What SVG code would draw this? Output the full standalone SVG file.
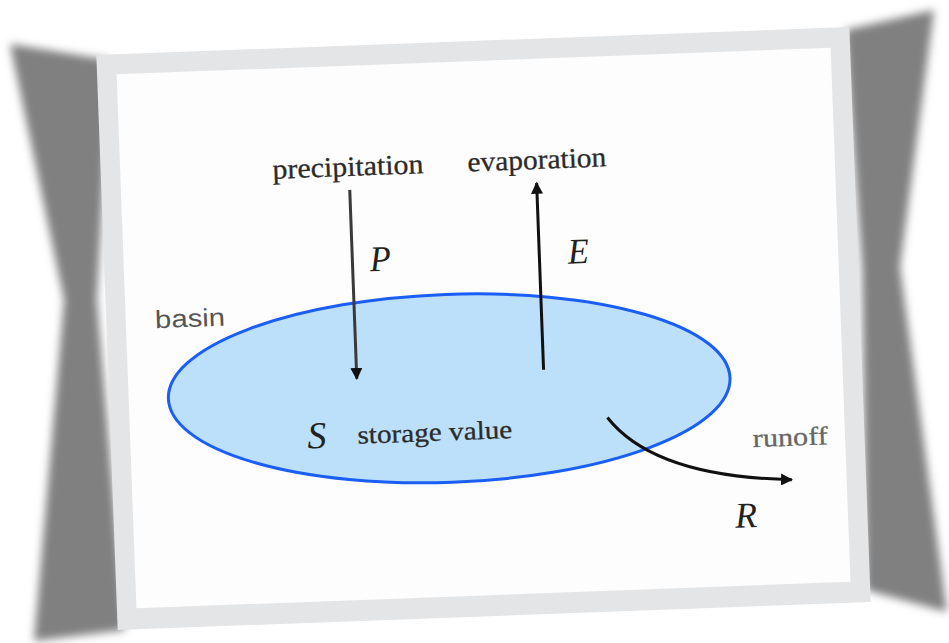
<svg xmlns="http://www.w3.org/2000/svg" width="949" height="643" viewBox="0 0 949 643">
<style>
.lbl{font-family:"Liberation Serif","Times New Roman",serif;fill:#2b2b2b;text-anchor:middle;stroke:#2b2b2b;stroke-width:0.3}
.sym{font-family:"Liberation Serif","Times New Roman",serif;font-style:italic;fill:#222;text-anchor:middle}
.sans{font-family:"Liberation Sans",Arial,sans-serif;fill:#555;text-anchor:middle}
.flow{fill:none;stroke-linecap:butt}
</style>
<defs>
<filter id="blur" x="-20%" y="-20%" width="140%" height="140%"><feGaussianBlur stdDeviation="4"/></filter>
<marker id="headDark" markerUnits="userSpaceOnUse" markerWidth="12" markerHeight="12" viewBox="0 0 10 10" refX="9" refY="5" orient="auto"><path d="M0,0 L10,5 L0,10 z" fill="#111"/></marker>
</defs>
<rect width="949" height="643" fill="#ffffff"/>
<g id="shadows" fill="#808080" filter="url(#blur)">
<polygon points="10,44 110,60 97,300 125,630 34,641 64,300"/>
<polygon points="845,30 934,10 900,267 947,612 866,590 862,267"/>
</g>
<g transform="rotate(-2.13 483.5 328.5)">
<g id="frame">
<rect x="106.75" y="40.8" width="753.5" height="575.4" fill="#e4e5e7"/>
<rect x="126.3" y="60.8" width="714.5" height="534.4" fill="#fdfdfd"/>
</g>
<g id="basin">
<ellipse cx="447" cy="387" rx="281" ry="94" fill="#bde0fa" stroke="#1a5ef5" stroke-width="3"/>
<text class="sans" x="190.6" y="316" font-size="25" textLength="70" lengthAdjust="spacingAndGlyphs">basin</text>
</g>
<g id="storage">
<text class="sym" x="313" y="442" font-size="38" textLength="19" lengthAdjust="spacingAndGlyphs">S</text>
<text class="lbl" x="431" y="439" font-size="26" textLength="155" lengthAdjust="spacingAndGlyphs">storage value</text>
</g>
<g id="precipitation">
<text class="lbl" x="354" y="171" font-size="28" textLength="151" lengthAdjust="spacingAndGlyphs">precipitation</text>
<text class="sym" x="383" y="267" font-size="36" textLength="21" lengthAdjust="spacingAndGlyphs">P</text>
</g>
<g id="evaporation">
<text class="lbl" x="543" y="171" font-size="28" textLength="139" lengthAdjust="spacingAndGlyphs">evaporation</text>
<text class="sym" x="581" y="267" font-size="36" textLength="21" lengthAdjust="spacingAndGlyphs">E</text>
</g>
<g id="runoff">
<text class="lbl" x="786" y="457" font-size="26" textLength="75" lengthAdjust="spacingAndGlyphs" style="fill:#666;stroke:#666">runoff</text>
<text class="sym" x="739" y="537" font-size="36" textLength="22" lengthAdjust="spacingAndGlyphs">R</text>
</g>
<g id="connectors">
<line class="flow" x1="355" y1="185" x2="355" y2="374" stroke="#3a3a3a" stroke-width="3" marker-end="url(#headDark)"/>
<line class="flow" x1="542" y1="372" x2="542" y2="185" stroke="#111" stroke-width="3" marker-end="url(#headDark)"/>
<path class="flow" d="M604,422 C628,455 680,485 786,491" stroke="#111" stroke-width="3" marker-end="url(#headDark)"/>
</g>
</g>
</svg>
